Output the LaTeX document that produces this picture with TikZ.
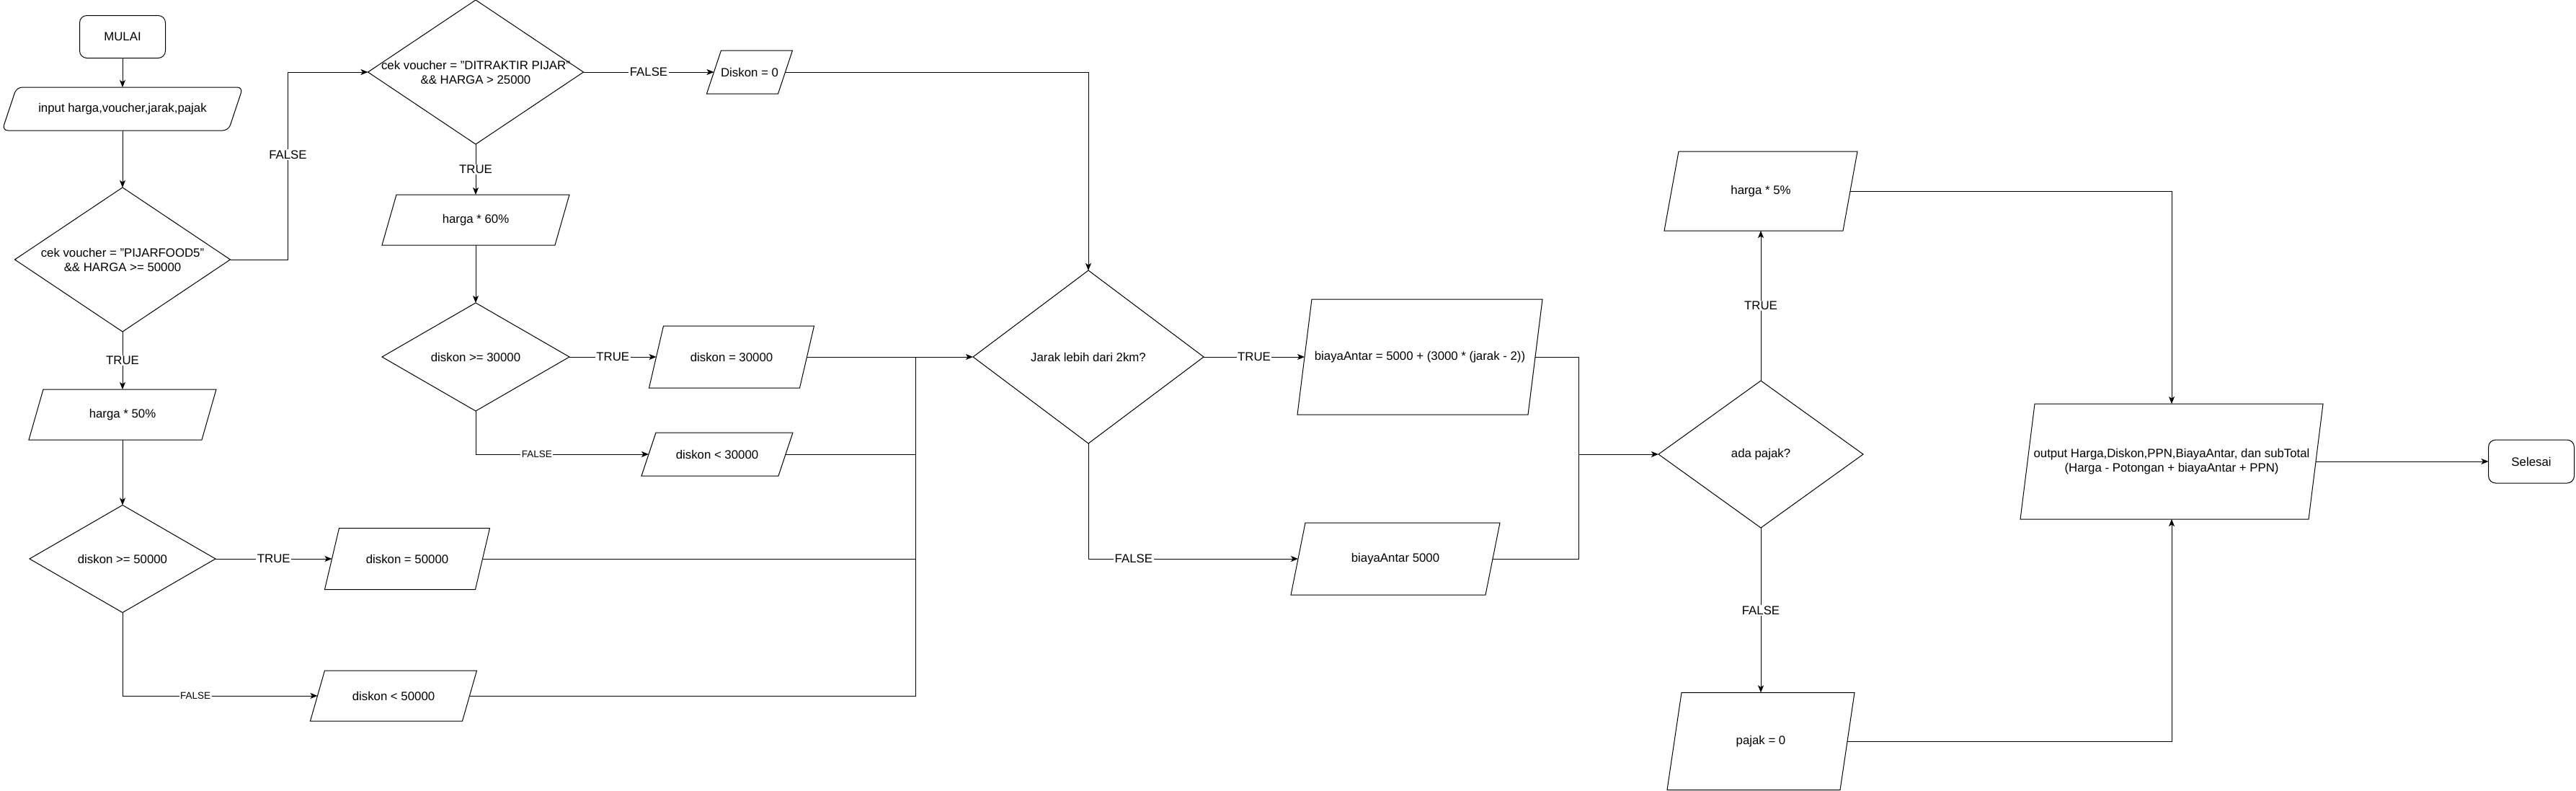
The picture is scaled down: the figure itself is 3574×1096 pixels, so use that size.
\documentclass[tikz,border=0pt]{standalone}
\usepackage{fontspec}
\setmainfont{Liberation Sans}
\usetikzlibrary{arrows.meta,positioning}

\begin{document}
\begin{tikzpicture}[
  x=1pt, y=-1pt,
  line width=1pt,
  font=\fontsize{16.8}{20}\selectfont,
  term/.style={draw,rounded corners=10pt,outer sep=0pt,minimum width=119pt,minimum height=59pt},
  io/.style 2 args={minimum width=#1,minimum height=#2,inner sep=1pt,outer sep=0pt,align=center,
    append after command={\pgfextra{\draw ([xshift=10pt]\tikzlastnode.north west) -- ([xshift=10pt]\tikzlastnode.north east)
      -- ([xshift=-10pt]\tikzlastnode.south east) -- ([xshift=-10pt]\tikzlastnode.south west) -- cycle;}}},
  inbox/.style 2 args={minimum width=#1,minimum height=#2,inner sep=1pt,outer sep=0pt,align=center,
    append after command={\pgfextra{\draw[rounded corners=8pt] ([xshift=10pt]\tikzlastnode.north west) -- ([xshift=10pt]\tikzlastnode.north east)
      -- ([xshift=-10pt]\tikzlastnode.south east) -- ([xshift=-10pt]\tikzlastnode.south west) -- cycle;}}},
  dec/.style 2 args={minimum width=#1,minimum height=#2,inner sep=0pt,outer sep=0pt,align=center,
    append after command={\pgfextra{\draw (\tikzlastnode.north) -- (\tikzlastnode.east) -- (\tikzlastnode.south) -- (\tikzlastnode.west) -- cycle;}}},
  arr/.style={-{Stealth[length=10pt,width=8pt,inset=2.5pt]}},
  lbl/.style={fill=white,inner sep=1.5pt},
  slbl/.style={lbl,font=\fontsize{13.5}{16}\selectfont}]
  \useasboundingbox (0,0) rectangle (3574,1096);
  % first voucher branch
  \node[term] (mulai) at (170,51) {MULAI};
  \node[inbox={314pt}{60pt}] (input) at (170,151) {input harga,voucher,jarak,pajak};
  \node[dec={299pt}{200pt}] (c1) at (170,360) {cek voucher = "PIJARFOOD5"\\\&\& HARGA >= 50000};
  \node[io={240pt}{70pt}] (p50) at (170,575) {harga * 50\%};
  \node[dec={258pt}{149pt}] (g50) at (170,775) {diskon >= 50000};
  \node[io={209pt}{85pt}] (d50) at (565,775) {diskon = 50000};
  \node[io={211pt}{70pt}] (k50) at (546,965) {diskon < 50000};
  % second voucher branch
  \node[dec={299pt}{200pt}] (c2) at (660,100) {cek voucher = "DITRAKTIR PIJAR"\\\&\& HARGA > 25000};
  \node[io={99pt}{60pt}] (nol) at (1040,100) {Diskon = 0};
  \node[io={240pt}{70pt}] (p60) at (660,305) {harga * 60\%};
  \node[dec={260pt}{150pt}] (g30) at (660,495) {diskon >= 30000};
  \node[io={209pt}{86pt}] (d30) at (1015,495) {diskon = 30000};
  \node[io={190pt}{60pt}] (k30) at (995,630) {diskon < 30000};
  % delivery
  \node[dec={320pt}{240pt}] (jarak) at (1510,495) {Jarak lebih dari 2km?};
  \node[io={320pt}{160pt}] (antar) at (1970,495) {biayaAntar = 5000 + (3000 * (jarak - 2))};
  \node[io={270pt}{100pt}] (antar5) at (1936,775) {biayaAntar 5000};
  % tax and output
  \node[dec={284pt}{204pt}] (pajak) at (2443,630) {ada pajak?};
  \node[io={248pt}{110pt}] (ppn) at (2443,265) {harga * 5\%};
  \node[io={240pt}{135pt}] (pajak0) at (2443,1028) {pajak = 0};
  \node[io={400pt}{160pt}] (output) at (3013,640) {output Harga,Diskon,PPN,BiayaAntar, dan subTotal\\(Harga - Potongan + biayaAntar + PPN)};
  \node[term,minimum height=60pt] (selesai) at (3512,640) {Selesai};
  \coordinate (m1) at (1270,495);
  \coordinate (m2) at (2190,630);
  \draw[arr] (mulai) -- (input);
  \draw[arr] (input) -- (c1);
  \draw[arr] (c1.east) -- ++(80,0) |- node[lbl,pos=0.28]{FALSE} (c2.west);
  \draw[arr] (c1) -- node[lbl]{TRUE} (p50);
  \draw[arr] (p50) -- (g50);
  \draw[arr] (g50) -- node[lbl]{TRUE} (d50);
  \draw[arr] (g50.south) |- node[slbl,pos=0.687]{FALSE} (k50.west);
  \draw[arr] (c2) -- node[lbl]{FALSE} (nol);
  \draw[arr] (c2) -- node[lbl]{TRUE} (p60);
  \draw[arr] (p60) -- (g30);
  \draw[arr] (g30) -- node[lbl]{TRUE} (d30);
  \draw[arr] (g30.south) |- node[slbl,pos=0.677]{FALSE} (k30.west);
  \draw[arr] (nol.east) -| (jarak.north);
  \draw[arr] (d30) -- (jarak);
  \draw (k30.east) -| (m1);
  \draw (d50.east) -| (m1);
  \draw (k50.east) -| (m1);
  \draw[arr] (jarak) -- node[lbl]{TRUE} (antar);
  \draw[arr] (jarak.south) |- node[lbl,pos=0.608]{FALSE} (antar5.west);
  \draw (antar.east) -| (m2);
  \draw (antar5.east) -| (m2);
  \draw[arr] (m2) -- (pajak.west);
  \draw[arr] (pajak) -- node[lbl]{TRUE} (ppn);
  \draw[arr] (pajak) -- node[lbl]{FALSE} (pajak0);
  \draw[arr] (ppn.east) -| (output.north);
  \draw[arr] (pajak0.east) -| (output.south);
  \draw[arr] (output) -- (selesai);
\end{tikzpicture}
\end{document}
